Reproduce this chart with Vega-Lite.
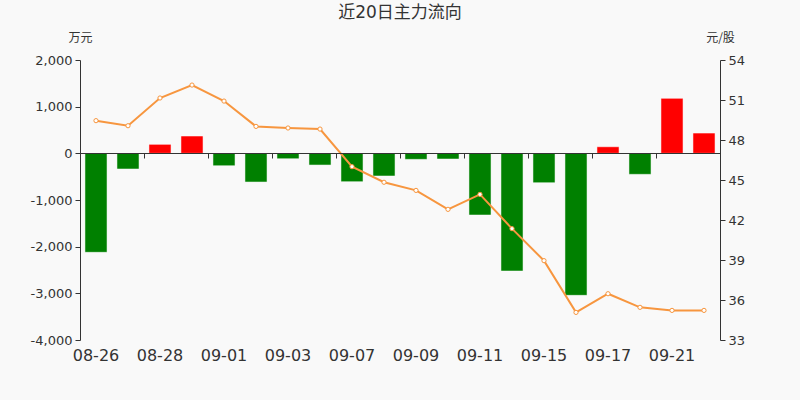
{
  "$schema": "https://vega.github.io/schema/vega-lite/v6.json",
  "width": 640,
  "height": 280,
  "autosize": {"type": "none"},
  "padding": {"left": 80, "top": 60, "right": 80, "bottom": 60},
  "background": "#f9f9f9",
  "title": {
    "text": "近20日主力流向",
    "fontSize": 17,
    "font": "DejaVu Sans, Noto Sans CJK SC",
    "fontWeight": "normal",
    "color": "#333333",
    "anchor": "middle",
    "frame": "group",
    "offset": 9
  },
  "config": {
    "view": {"stroke": null},
    "axis": {"labelFont": "DejaVu Sans", "titleFont": "Noto Sans CJK SC", "labelColor": "#333333", "titleColor": "#333333", "domainColor": "#333333", "tickColor": "#333333", "grid": false}
  },
  "data": {
    "values": [
      {"date": "08-26", "flow": -2121, "price": 49.45},
      {"date": "08-27", "flow": -336, "price": 49.07},
      {"date": "08-28", "flow": 193, "price": 51.15},
      {"date": "08-31", "flow": 371, "price": 52.12},
      {"date": "09-01", "flow": -266, "price": 50.92},
      {"date": "09-02", "flow": -615, "price": 49.02},
      {"date": "09-03", "flow": -116, "price": 48.9},
      {"date": "09-04", "flow": -251, "price": 48.82},
      {"date": "09-07", "flow": -608, "price": 46.0},
      {"date": "09-08", "flow": -486, "price": 44.83},
      {"date": "09-09", "flow": -129, "price": 44.22},
      {"date": "09-10", "flow": -122, "price": 42.8},
      {"date": "09-11", "flow": -1322, "price": 43.92},
      {"date": "09-14", "flow": -2522, "price": 41.35},
      {"date": "09-15", "flow": -630, "price": 38.95},
      {"date": "09-16", "flow": -3043, "price": 35.07},
      {"date": "09-17", "flow": 141, "price": 36.47},
      {"date": "09-18", "flow": -450, "price": 35.45},
      {"date": "09-21", "flow": 1178, "price": 35.22},
      {"date": "09-22", "flow": 435, "price": 35.22}
    ]
  },
  "layer": [
    {
      "mark": {"type": "bar", "width": {"band": 0.69}, "stroke": "#ffffff", "strokeOpacity": 0.5, "strokeWidth": 1},
      "encoding": {
        "x": {
          "field": "date", "type": "ordinal", "sort": null,
          "scale": {"paddingInner": 0, "paddingOuter": 0},
          "axis": {
            "orient": "bottom", "offset": -187, "labels": false, "title": null,
            "ticks": true, "tickSize": 5, "bandPosition": 0, "zindex": 1,
            "values": ["08-26", "08-28", "09-01", "09-03", "09-07", "09-09", "09-11", "09-15", "09-17", "09-21"]
          }
        },
        "y": {
          "field": "flow", "type": "quantitative",
          "scale": {"domain": [-4000, 2000], "nice": false, "zero": false},
          "axis": {
            "orient": "left", "values": [-4000, -3000, -2000, -1000, 0, 1000, 2000],
            "labelExpr": "replace(format(datum.value, ','), '\u2212', '-')",
            "labelFontSize": 13, "tickSize": 5, "labelPadding": 3,
            "title": "万元", "titleAngle": 0, "titleX": 0, "titleY": -16, "titleAlign": "center",
            "titleBaseline": "bottom", "titleFontSize": 12, "titleFontWeight": "normal"
          }
        },
        "color": {"condition": {"test": "datum.flow > 0", "value": "#ff0000"}, "value": "#008000"}
      }
    },
    {
      "mark": {
        "type": "line", "color": "#f7963f", "strokeWidth": 2,
        "point": {"filled": true, "fill": "#ffffff", "stroke": "#f7963f", "strokeWidth": 1, "size": 18}
      },
      "encoding": {
        "x": {
          "field": "date", "type": "ordinal", "sort": null,
          "axis": {
            "orient": "bottom", "ticks": false, "domain": false, "title": null,
            "labelAngle": 0, "labelFontSize": 16, "labelPadding": 7,
            "values": ["08-26", "08-28", "09-01", "09-03", "09-07", "09-09", "09-11", "09-15", "09-17", "09-21"]
          }
        },
        "y": {
          "field": "price", "type": "quantitative",
          "scale": {"domain": [33, 54], "nice": false, "zero": false},
          "axis": {
            "orient": "right", "values": [33, 36, 39, 42, 45, 48, 51, 54],
            "labelFontSize": 13, "tickSize": 5, "labelPadding": 3,
            "title": "元/股", "titleAngle": 0, "titleX": 0, "titleY": -16, "titleAlign": "center",
            "titleBaseline": "bottom", "titleFontSize": 12, "titleFontWeight": "normal"
          }
        }
      }
    }
  ],
  "resolve": {"scale": {"y": "independent"}, "axis": {"x": "independent"}}
}
